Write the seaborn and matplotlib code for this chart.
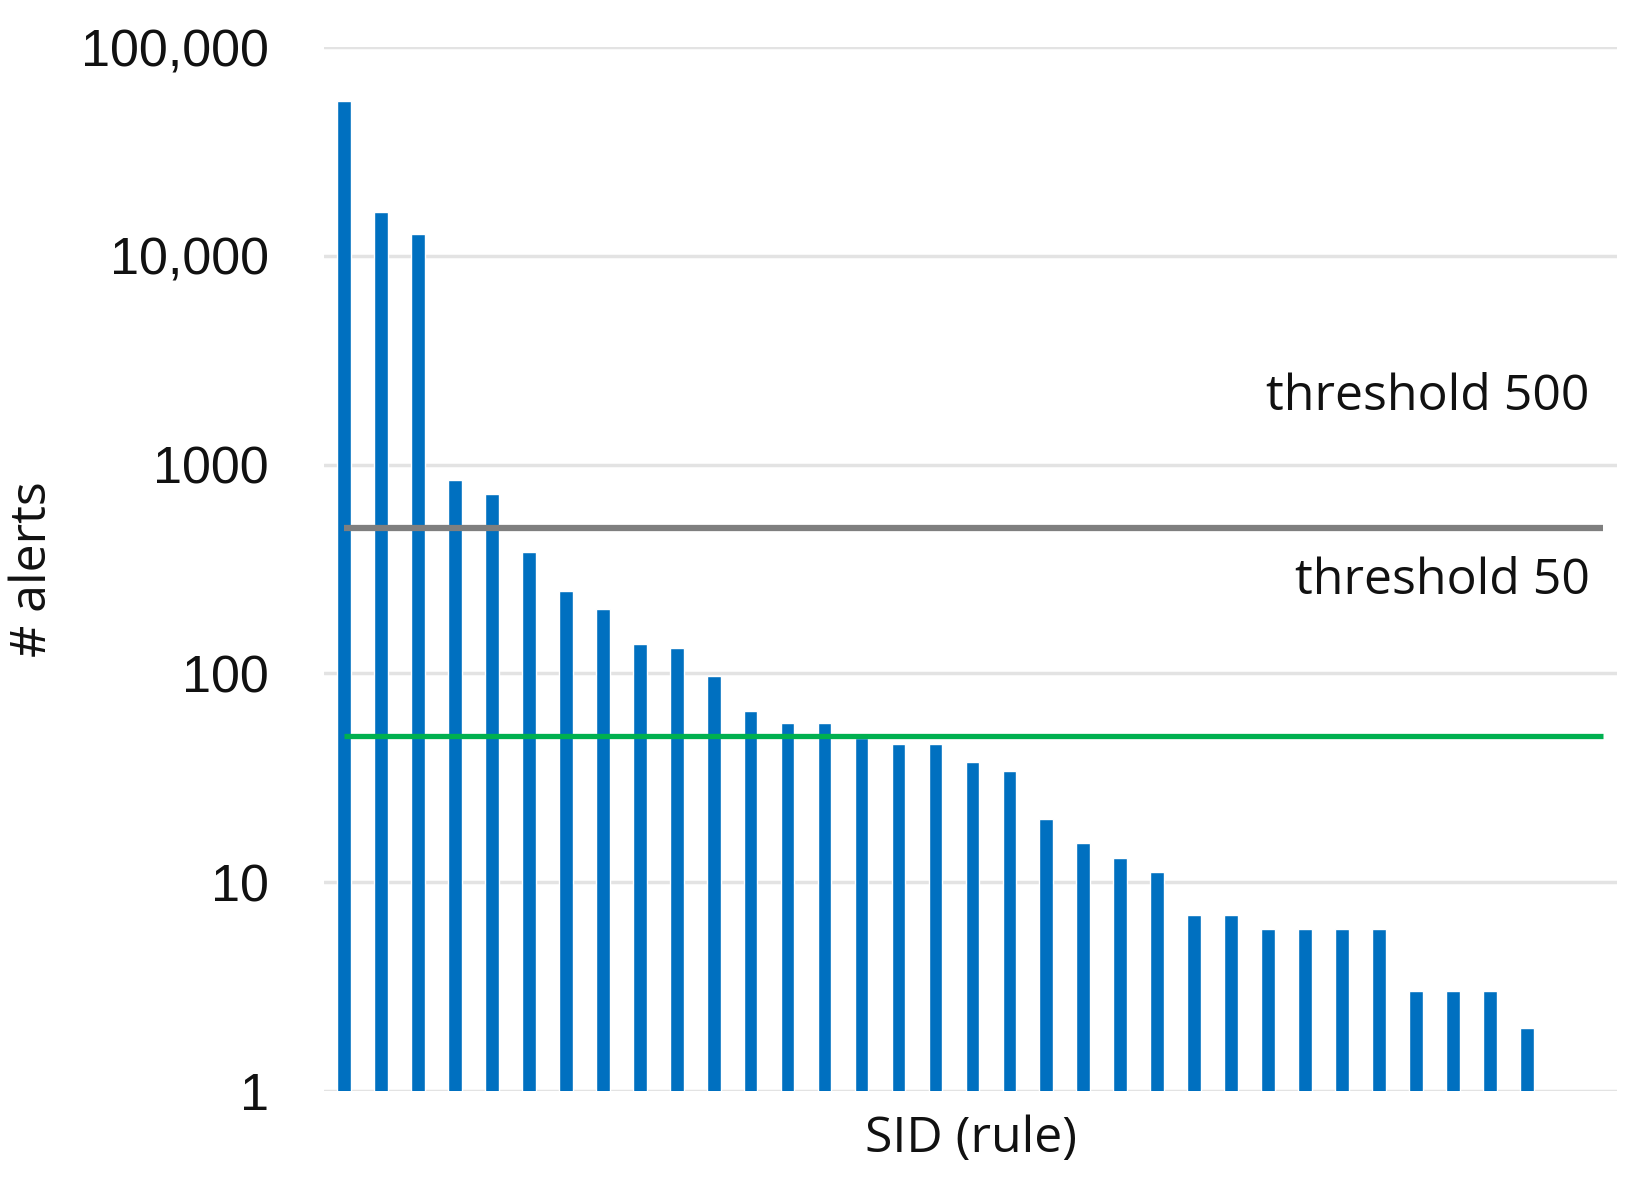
import numpy as np
import seaborn as sns
import matplotlib.pyplot as plt
import pandas as pd

# alerts per SID (rule), sorted descending
sid_rank = list(range(1, 34))
alerts = [55000, 16200, 12700, 840, 725, 380, 248, 204, 138, 132, 97,
          66, 58, 58, 49, 46, 46, 37.5, 34, 20, 15.5, 13, 11.2,
          7, 7, 6, 6, 6, 6, 3, 3, 3, 2]
# thresholds
thr_values = [500, 50]
thr_labels = ['threshold 500', 'threshold 50']
thr_colors = ['#7f7f7f', '#00b050']
# y ticks
y_ticks = [1, 10, 100, 1000, 10000, 100000]
y_tick_labels = ['1', '10', '100', '1000', '10,000', '100,000']

df = pd.DataFrame({'sid': sid_rank, 'alerts': alerts})

sns.set_theme(style='white')
plt.rcParams['font.family'] = ['Liberation Sans', 'DejaVu Sans']

fig = plt.figure(figsize=(16.37, 11.77), dpi=100)
ax = fig.add_axes([0.198, 0.073, 0.79, 0.887])

sns.barplot(data=df, x='sid', y='alerts', color='#0070c0', width=0.37,
            saturation=1, ax=ax, zorder=2)
ax.set_yscale('log')
ax.set_ylim(1, 100000)
ax.set_xlim(-0.54, 34.45)

# threshold lines
for v, c, lw in zip(thr_values, thr_colors, [4.5, 3.8]):
    ax.hlines(v, 0, 34.05, color=c, linewidth=lw, zorder=3)
# threshold labels
ax.text(33.7, 2100, thr_labels[0], ha='right', va='center', fontsize=36,
        family='Open Sans', color='#111111')
ax.text(33.7, 275, thr_labels[1], ha='right', va='center', fontsize=36,
        family='Open Sans', color='#111111')

ax.set_yticks(y_ticks)
ax.set_yticklabels(y_tick_labels, fontsize=37.5, color='#111111')
ax.yaxis.set_minor_locator(plt.NullLocator())
ax.set_xticks([])
ax.tick_params(axis='y', length=0, pad=40)

ax.grid(axis='y', color='#e3e3e3', linewidth=2.5, zorder=0)
ax.set_axisbelow(True)
for s in ax.spines.values():
    s.set_visible(False)

ax.set_xlabel('SID (rule)', fontsize=36, family='Open Sans', labelpad=17,
              color='#111111')
ax.set_ylabel('# alerts', fontsize=36, family='Open Sans', labelpad=16,
              color='#111111')

fig.savefig('out.png', dpi=100)
